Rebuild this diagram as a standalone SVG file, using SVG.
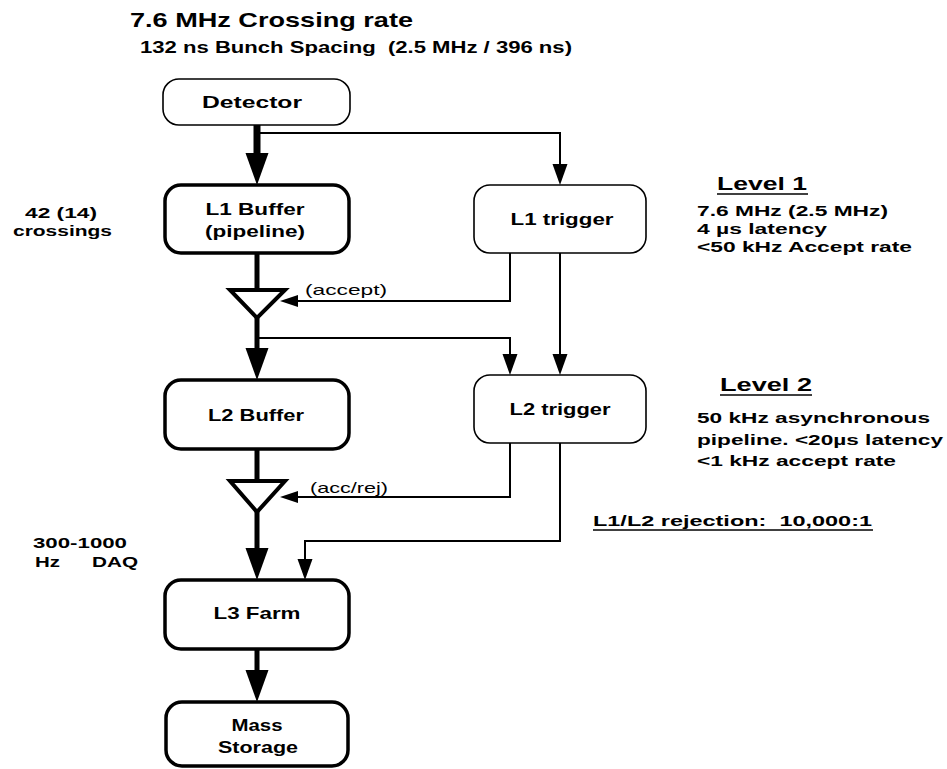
<svg xmlns="http://www.w3.org/2000/svg" width="947" height="769" viewBox="0 0 947 769">
<style>
text{font-family:"Liberation Sans",Arial,Helvetica,sans-serif;font-weight:bold;fill:#000}
.lbl{font-size:17px;text-anchor:middle}
.note{font-size:15px}
.small{font-size:15px;font-weight:normal}
.head{font-size:19px}
.box{fill:#fff;stroke:#000}
.thick{stroke-width:3.5}
.thin{stroke-width:1.6}
.c{fill:none;stroke:#000;stroke-linejoin:miter}
.w7{stroke-width:7}
.w5{stroke-width:5}
.w2{stroke-width:2}
.ul{stroke:#000;stroke-width:1.5}
</style>
<defs>
<marker id="ahT" markerUnits="userSpaceOnUse" viewBox="0 -12 32 24" refX="0" refY="0" markerWidth="32" markerHeight="24" orient="auto" overflow="visible"><path d="M0,-11.5 L32,0 L0,11.5 z" fill="#000"/></marker>
<marker id="ahS" markerUnits="userSpaceOnUse" viewBox="0 -8 21 16" refX="0" refY="0" markerWidth="21" markerHeight="16" orient="auto" overflow="visible"><path d="M0,-7.5 L21,0 L0,7.5 z" fill="#000"/></marker>
<marker id="ahA" markerUnits="userSpaceOnUse" viewBox="0 -6 18 12" refX="0" refY="0" markerWidth="18" markerHeight="12" orient="auto" overflow="visible"><path d="M0,-6 L18,0 L0,6 z" fill="#000"/></marker>
</defs>
<rect width="947" height="769" fill="#fff"/>

<g id="titles">
<text x="130" y="27" style="font-size:21px" textLength="283" lengthAdjust="spacingAndGlyphs">7.6 MHz Crossing rate</text>
<text x="140" y="53" style="font-size:16px" textLength="432" lengthAdjust="spacingAndGlyphs">132 ns Bunch Spacing &#160;(2.5 MHz / 396 ns)</text>
</g>

<g id="connectors">
<path class="c w7" d="M257,125 V153" marker-end="url(#ahT)"/>
<path class="c w2" d="M257,133 H560 V164" marker-end="url(#ahS)"/>
<path class="c w5" d="M257,253 V290"/>
<path class="c w5" d="M257,316 V348" marker-end="url(#ahT)"/>
<path class="c w2" d="M257,338 H510 V354" marker-end="url(#ahS)"/>
<path class="c w2" d="M510,253 V301 H298" marker-end="url(#ahA)"/>
<path class="c w2" d="M560,253 V354" marker-end="url(#ahS)"/>
<path class="c w5" d="M257,449 V481"/>
<path class="c w5" d="M257,510 V548" marker-end="url(#ahT)"/>
<path class="c w2" d="M510,443 V497 H298" marker-end="url(#ahA)"/>
<path class="c w2" d="M560,443 V541 H305 V559" marker-end="url(#ahS)"/>
<path class="c w5" d="M257,649 V670" marker-end="url(#ahT)"/>
</g>

<g id="detector">
<rect class="box thin" x="163" y="79" width="187" height="46" rx="16"/>
<text class="lbl" x="252" y="108" textLength="100" lengthAdjust="spacingAndGlyphs">Detector</text>
</g>
<g id="l1buffer">
<rect class="box thick" x="165" y="185" width="184" height="68" rx="16"/>
<text class="lbl" x="255" y="215" textLength="99" lengthAdjust="spacingAndGlyphs">L1 Buffer</text>
<text class="lbl" x="255" y="237" textLength="100" lengthAdjust="spacingAndGlyphs">(pipeline)</text>
</g>
<g id="l1trigger">
<rect class="box thin" x="474" y="185" width="172" height="68" rx="16"/>
<text class="lbl" x="562" y="225" textLength="103" lengthAdjust="spacingAndGlyphs">L1 trigger</text>
</g>
<g id="gate1">
<polygon points="230,290 285,290 257,318" fill="#fff" stroke="#000" stroke-width="4" stroke-linejoin="miter"/>
<text class="small" x="305" y="295" textLength="82" lengthAdjust="spacingAndGlyphs">(accept)</text>
</g>
<g id="l2buffer">
<rect class="box thick" x="165" y="380" width="184" height="69" rx="16"/>
<text class="lbl" x="256" y="421" textLength="96" lengthAdjust="spacingAndGlyphs">L2 Buffer</text>
</g>
<g id="l2trigger">
<rect class="box thin" x="474" y="375" width="172" height="68" rx="16"/>
<text class="lbl" x="560" y="415" textLength="101" lengthAdjust="spacingAndGlyphs">L2 trigger</text>
</g>
<g id="gate2">
<polygon points="230,481 285,481 257,512" fill="#fff" stroke="#000" stroke-width="4" stroke-linejoin="miter"/>
<text class="small" x="310" y="493" textLength="78" lengthAdjust="spacingAndGlyphs">(acc/rej)</text>
</g>
<g id="l3farm">
<rect class="box thick" x="165" y="580" width="184" height="69" rx="16"/>
<text class="lbl" x="257" y="619" textLength="87" lengthAdjust="spacingAndGlyphs">L3 Farm</text>
</g>
<g id="massstorage">
<rect class="box thick" x="166" y="702" width="182" height="64" rx="16"/>
<text class="lbl" x="257" y="731" textLength="51" lengthAdjust="spacingAndGlyphs">Mass</text>
<text class="lbl" x="258" y="753" textLength="80" lengthAdjust="spacingAndGlyphs">Storage</text>
</g>

<g id="leftnotes">
<text class="note" x="25" y="218" textLength="72" lengthAdjust="spacingAndGlyphs">42 (14)</text>
<text class="note" x="13" y="236" textLength="99" lengthAdjust="spacingAndGlyphs">crossings</text>
<text class="note" x="33" y="548" textLength="94" lengthAdjust="spacingAndGlyphs">300-1000</text>
<text class="note" x="35" y="567" textLength="25" lengthAdjust="spacingAndGlyphs">Hz</text>
<text class="note" x="92" y="567" textLength="46" lengthAdjust="spacingAndGlyphs">DAQ</text>
</g>

<g id="level1">
<text class="head" x="717" y="190" textLength="90" lengthAdjust="spacingAndGlyphs">Level 1</text>
<line class="ul" x1="717" y1="194" x2="808" y2="194"/>
<text class="note" x="697" y="216" textLength="191" lengthAdjust="spacingAndGlyphs">7.6 MHz (2.5 MHz)</text>
<text class="note" x="697" y="234" textLength="130" lengthAdjust="spacingAndGlyphs">4 µs latency</text>
<text class="note" x="697" y="252" textLength="215" lengthAdjust="spacingAndGlyphs">&lt;50 kHz Accept rate</text>
</g>
<g id="level2">
<text class="head" x="720" y="391" textLength="92" lengthAdjust="spacingAndGlyphs">Level 2</text>
<line class="ul" x1="720" y1="395" x2="812" y2="395"/>
<text class="note" x="697" y="423" textLength="233" lengthAdjust="spacingAndGlyphs">50 kHz asynchronous</text>
<text class="note" x="697" y="445" textLength="246" lengthAdjust="spacingAndGlyphs">pipeline. &lt;20µs latency</text>
<text class="note" x="697" y="466" textLength="199" lengthAdjust="spacingAndGlyphs">&lt;1 kHz accept rate</text>
<text class="note" x="593" y="526" textLength="279" lengthAdjust="spacingAndGlyphs">L1/L2 rejection: &#160;10,000:1</text>
<line class="ul" x1="593" y1="530" x2="873" y2="530"/>
</g>
</svg>
